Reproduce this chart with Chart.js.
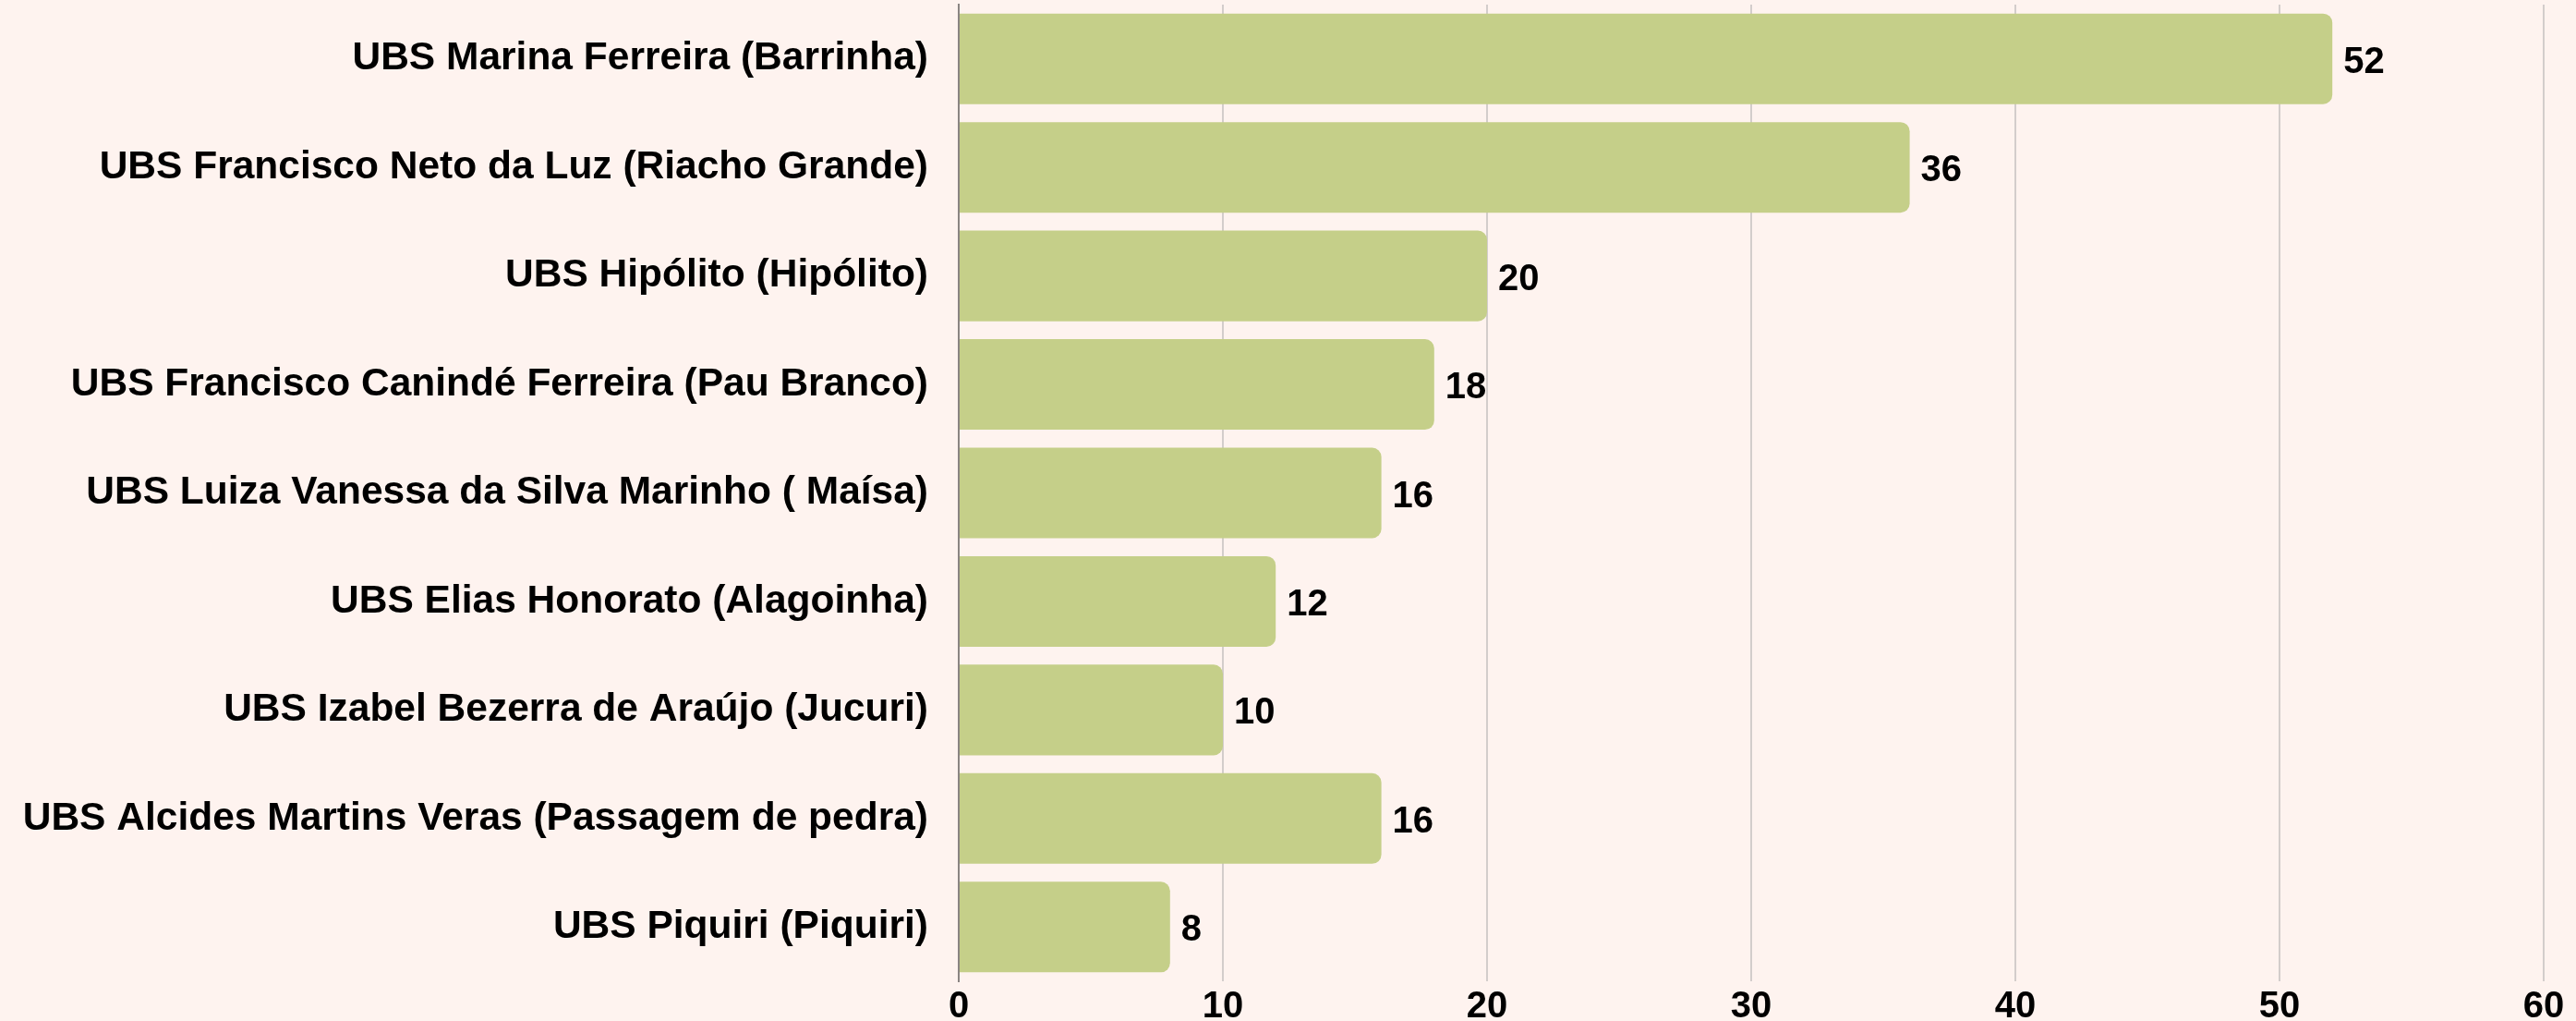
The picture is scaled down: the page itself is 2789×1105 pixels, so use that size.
<!DOCTYPE html>
<html>
<head>
<meta charset="utf-8">
<script src="https://cdn.jsdelivr.net/npm/chart.js@4"></script>
<style>
  html, body { margin: 0; padding: 0; background: #fef3ef; }
  #wrap { width: 2789px; height: 1105px; }
</style>
</head>
<body>
<div id="wrap"><canvas id="grafica"></canvas></div>
<script>
// Dados do gráfico
const unidades = [
  'UBS Marina Ferreira (Barrinha)',
  'UBS Francisco Neto da Luz (Riacho Grande)',
  'UBS Hipólito (Hipólito)',
  'UBS Francisco Canindé Ferreira (Pau Branco)',
  'UBS Luiza Vanessa da Silva Marinho ( Maísa)',
  'UBS Elias Honorato (Alagoinha)',
  'UBS Izabel Bezerra de Araújo (Jucuri)',
  'UBS Alcides Martins Veras (Passagem de pedra)',
  'UBS Piquiri (Piquiri)'
];
const valores = [52, 36, 20, 18, 16, 12, 10, 16, 8];
const eixoMin = 0;
const eixoMax = 60;
const eixoPasso = 10;

const fonte = '"Liberation Sans", Arial, Helvetica, sans-serif';

// rótulos de valor na ponta das barras
const rotulosValor = {
  id: 'rotulosValor',
  afterDatasetsDraw(chart) {
    const ctx = chart.ctx;
    const meta = chart.getDatasetMeta(0);
    ctx.save();
    ctx.font = 'bold 40px ' + fonte;
    ctx.fillStyle = '#000';
    ctx.textAlign = 'left';
    ctx.textBaseline = 'middle';
    meta.data.forEach((bar, i) => {
      ctx.fillText(String(valores[i]), bar.x + 12, bar.y + 4);
    });
    ctx.restore();
  }
};

const ctx = document.getElementById('grafica').getContext('2d');
const grafica = new Chart(ctx, {
  type: 'bar',
  data: {
    labels: unidades,
    datasets: [{
      data: valores,
      backgroundColor: '#c5cf89',
      borderWidth: 0,
      borderRadius: 10,
      barPercentage: 0.835,
      categoryPercentage: 1
    }]
  },
  options: {
    indexAxis: 'y',
    responsive: true,
    maintainAspectRatio: false,
    animation: false,
    layout: { padding: { top: 5, right: 35, left: 0, bottom: 0 } },
    plugins: {
      legend: { display: false },
      tooltip: { enabled: false }
    },
    scales: {
      x: {
        min: eixoMin,
        max: eixoMax,
        ticks: {
          stepSize: eixoPasso,
          color: '#000',
          padding: 8,
          maxRotation: 0,
          font: { family: fonte, size: 40, weight: 'bold', lineHeight: 1 }
        },
        grid: { color: '#d3cdcb', lineWidth: 2, drawTicks: false },
        border: { display: false },
        afterFit(scale) {
          scale.height = 43;
          scale.paddingRight = 0;
        }
      },
      y: {
        ticks: {
          color: '#000',
          padding: 33,
          font: { family: fonte, size: 42.5, weight: 'bold' }
        },
        grid: { display: false, drawTicks: false },
        border: { display: true, color: '#8a8482', width: 2 },
        afterFit(scale) {
          scale.width = 1038;
          scale.paddingTop = 0;
          scale.paddingBottom = 0;
        }
      }
    }
  },
  plugins: [rotulosValor]
});
</script>
</body>
</html>
